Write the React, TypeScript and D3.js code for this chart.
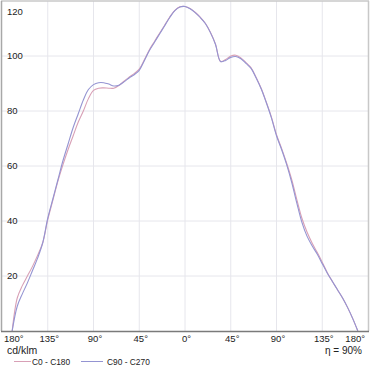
import React from "react";
import * as d3 from "d3";

const angles = [-170,-165,-160,-155,-150,-145,-140,-135,-130,-125,-120,-115,-110,-105,-100,-95,-90,-85,-80,-75,-70,-65,-60,-55,-50,-45,-40,-35,-30,-25,-20,-15,-10,-5,0,5,10,15,20,25,30,35,40,45,50,55,60,65,70,75,80,85,90,95,100,105,110,115,120,125,130,135,140,145,150,155,160,165,170];

const c0c180 = [0,12,16.5,20,23.5,27.5,32,40.5,47.5,54.5,60.5,66,71,76,80,84.5,87.5,88.3,88.4,88.3,88.3,89.3,90.8,92.3,93.6,95.2,98.6,102.3,105.3,108.3,111.2,114.2,116.6,117.9,118,117.3,115.9,114.1,111.9,108.6,104.3,98,98.7,100,100.3,99.3,97.6,95.7,92.2,88.2,83.2,77.8,71.4,66.4,61,55,47.8,41,36,32,28.6,25,21.2,18,15,12,8.5,4.5,0];

const c90c270 = [0,9,13.5,17.5,22,26.5,32,41,48,55,62,68,74,79,84,87.8,89.6,90.3,90.3,89.8,89.1,89.4,90.6,92,93.2,94.8,98.3,102,105,108,111,114,116.5,117.8,118,117.2,115.8,114,111.8,108.5,104.2,98,98.4,99.5,99.8,99,97.3,95.5,92,88,83,77.5,71,66,60.5,54,46.5,39.5,34.5,31,28,24.5,21,18,15,12,8.5,4.5,0];

const yTicks = [20, 40, 60, 80, 100, 120];
const xTicks = [-180, -135, -90, -45, 0, 45, 90, 135, 180];
const seriesNames = ["C0 - C180", "C90 - C270"];
const seriesColors = ["#d8a0b6", "#9494d2"];

export default function App() {
  const W = 370, H = 370;
  const x = d3.scaleLinear().domain([-180, 180]).range([2, 368]);
  const y = d3.scaleLinear().domain([0, 120]).range([331, 1]);
  const line = d3
    .line<number>()
    .x((_, i) => x(angles[i]))
    .y((d) => y(d))
    .curve(d3.curveCatmullRom.alpha(0.5));
  const series = [c0c180, c90c270];
  const font = "'Liberation Sans', Arial, sans-serif";
  return (
    <svg
      width={W}
      height={H}
      style={{ position: "absolute", left: 0, top: 0, background: "#fff" }}
      fontFamily={font}
    >
      <rect x={0} y={0} width={W} height={H} fill="#fff" />
      {xTicks.slice(1, -1).map((t) => (
        <line key={"gx" + t} x1={x(t)} x2={x(t)} y1={1} y2={331} stroke="#e6e6ec" strokeWidth={1} />
      ))}
      {yTicks.slice(0, -1).map((t) => (
        <line key={"gy" + t} x1={2} x2={368} y1={y(t)} y2={y(t)} stroke="#e6e6ec" strokeWidth={1} />
      ))}
      <line x1={1} x2={369} y1={1} y2={1} stroke="#c8c8c8" strokeWidth={1.5} />
      <line x1={368.5} x2={368.5} y1={1} y2={331} stroke="#c8c8c8" strokeWidth={1.5} />
      <line x1={1.5} x2={1.5} y1={1} y2={331} stroke="#a8a8a8" strokeWidth={1.5} />
      {series.map((s, i) => (
        <path key={i} d={line(s) || ""} fill="none" stroke={seriesColors[i]} strokeWidth={1.1} />
      ))}
      <line x1={1} x2={369} y1={331.5} y2={331.5} stroke="#7a7a7a" strokeWidth={1.5} />
      {yTicks.map((t) => (
        <text key={"yl" + t} x={7} y={Math.max(y(t) + 3.4, 15)} fontSize={9.5} fill="#222">
          {t}
        </text>
      ))}
      {xTicks.map((t, i) => {
        const anchor = i === 0 ? "start" : i === xTicks.length - 1 ? "end" : "middle";
        const px = i === 0 ? 4 : i === xTicks.length - 1 ? 365 : x(t) + 1.5;
        return (
          <text key={"xl" + i} x={px} y={342} fontSize={9.5} fill="#222" textAnchor={anchor}>
            {Math.abs(t) + "°"}
          </text>
        );
      })}
      <text x={7} y={354} fontSize={10.5} fill="#222">cd/klm</text>
      <text x={362} y={354} fontSize={10} fill="#222" textAnchor="end">η = 90%</text>
      <line x1={14} x2={31} y1={361.5} y2={361.5} stroke={seriesColors[0]} strokeWidth={1} />
      <text x={32} y={364.5} fontSize={8.4} fill="#222">{seriesNames[0]}</text>
      <line x1={81} x2={103} y1={361.5} y2={361.5} stroke={seriesColors[1]} strokeWidth={1} />
      <text x={107} y={364.5} fontSize={8.4} fill="#222">{seriesNames[1]}</text>
    </svg>
  );
}
